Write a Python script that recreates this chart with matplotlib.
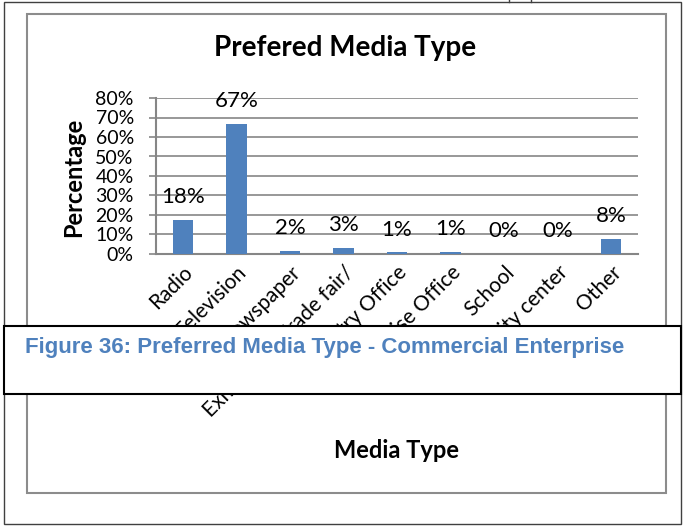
import matplotlib
matplotlib.use("Agg")
import matplotlib.pyplot as plt
from matplotlib.patches import Rectangle
from matplotlib.lines import Line2D

categories = ["Radio", "Television", "Newspaper", "Exhibition/ Trade fair/",
              "Ministry Office", "Enterprise Office", "School",
              "Community center", "Other"]
values = [17.6, 66.7, 1.6, 3.2, 0.8, 1.2, 0.0, 0.0, 7.8]
yticks = [0, 10, 20, 30, 40, 50, 60, 70, 80]

title = "Prefered Media Type"
xlabel = "Media Type"
ylabel = "Percentage"
caption = "Figure 36: Preferred Media Type - Commercial Enterprise"

NARROW = ["Lato", "DejaVu Sans"]
BODY = ["Lato", "DejaVu Sans"]
CAPF = ["Liberation Sans", "DejaVu Sans"]

fig = plt.figure(figsize=(6.86, 5.29), dpi=100)
W, H = 686, 529

def fx(x):
    return x / W

def fy(y):
    return 1 - y / H

ax = fig.add_axes([fx(156), fy(254), fx(638) - fx(156), fy(98) - fy(254)])
x = list(range(len(categories)))
ax.bar(x, values, width=0.38, color="#4F81BD", zorder=3)
ax.set_xlim(-0.5, len(categories) - 0.5)
ax.set_ylim(0, 80)
ax.set_yticks(yticks)
ax.set_yticklabels([f"{t}%" for t in yticks], fontfamily=NARROW, fontsize=14)
ax.yaxis.grid(True, color="#868686", linewidth=1.2, zorder=0)
ax.set_axisbelow(True)
ax.tick_params(axis="y", length=5, color="#868686", width=1.2, pad=11)
ax.tick_params(axis="x", length=0, pad=6)
ax.set_xticks(x)
ax.set_xticklabels(categories, rotation=45, ha="right", rotation_mode="anchor",
                   fontfamily=BODY, fontsize=15)
for s in ["top", "right"]:
    ax.spines[s].set_visible(False)
for s in ["left", "bottom"]:
    ax.spines[s].set_color("#868686")
    ax.spines[s].set_linewidth(1.5)

for xi, v in zip(x, values):
    ax.annotate(f"{v:.0f}%", (xi, v), xytext=(0, 9), textcoords="offset points",
                ha="center", va="bottom", fontfamily=NARROW, fontsize=16)

fig.text(fx(345), fy(48), title, ha="center", va="center",
         fontfamily=NARROW, fontweight="bold", fontsize=20)
fig.text(fx(74), fy(177), ylabel, ha="center", va="center", rotation=90,
         fontfamily=NARROW, fontweight="bold", fontsize=17)
fig.text(fx(397), fy(451), xlabel, ha="center", va="center",
         fontfamily=NARROW, fontweight="bold", fontsize=17)

# chart frame
fig.add_artist(Rectangle((fx(27), fy(493)), fx(666) - fx(27), fy(14) - fy(493),
                         transform=fig.transFigure, fill=False,
                         edgecolor="#8c8c8c", linewidth=1.5, zorder=5))
# outer page border
fig.add_artist(Rectangle((fx(4), fy(524)), fx(681) - fx(4), fy(2) - fy(524),
                         transform=fig.transFigure, fill=False,
                         edgecolor="#404040", linewidth=1.0, zorder=5))
for xv in (509, 531):
    fig.add_artist(Line2D([fx(xv), fx(xv)], [fy(0), fy(2)],
                          transform=fig.transFigure, color="#404040", linewidth=1.0))
# caption box
fig.add_artist(Rectangle((fx(4), fy(394)), fx(681) - fx(4), fy(326) - fy(394),
                         transform=fig.transFigure, facecolor="white",
                         edgecolor="black", linewidth=1.5, zorder=10))
fig.text(fx(25), fy(348), caption, ha="left", va="center", color="#4F81BD",
         fontfamily=CAPF, fontweight="bold", fontsize=16, zorder=11)

fig.savefig("out.png", dpi=100)
